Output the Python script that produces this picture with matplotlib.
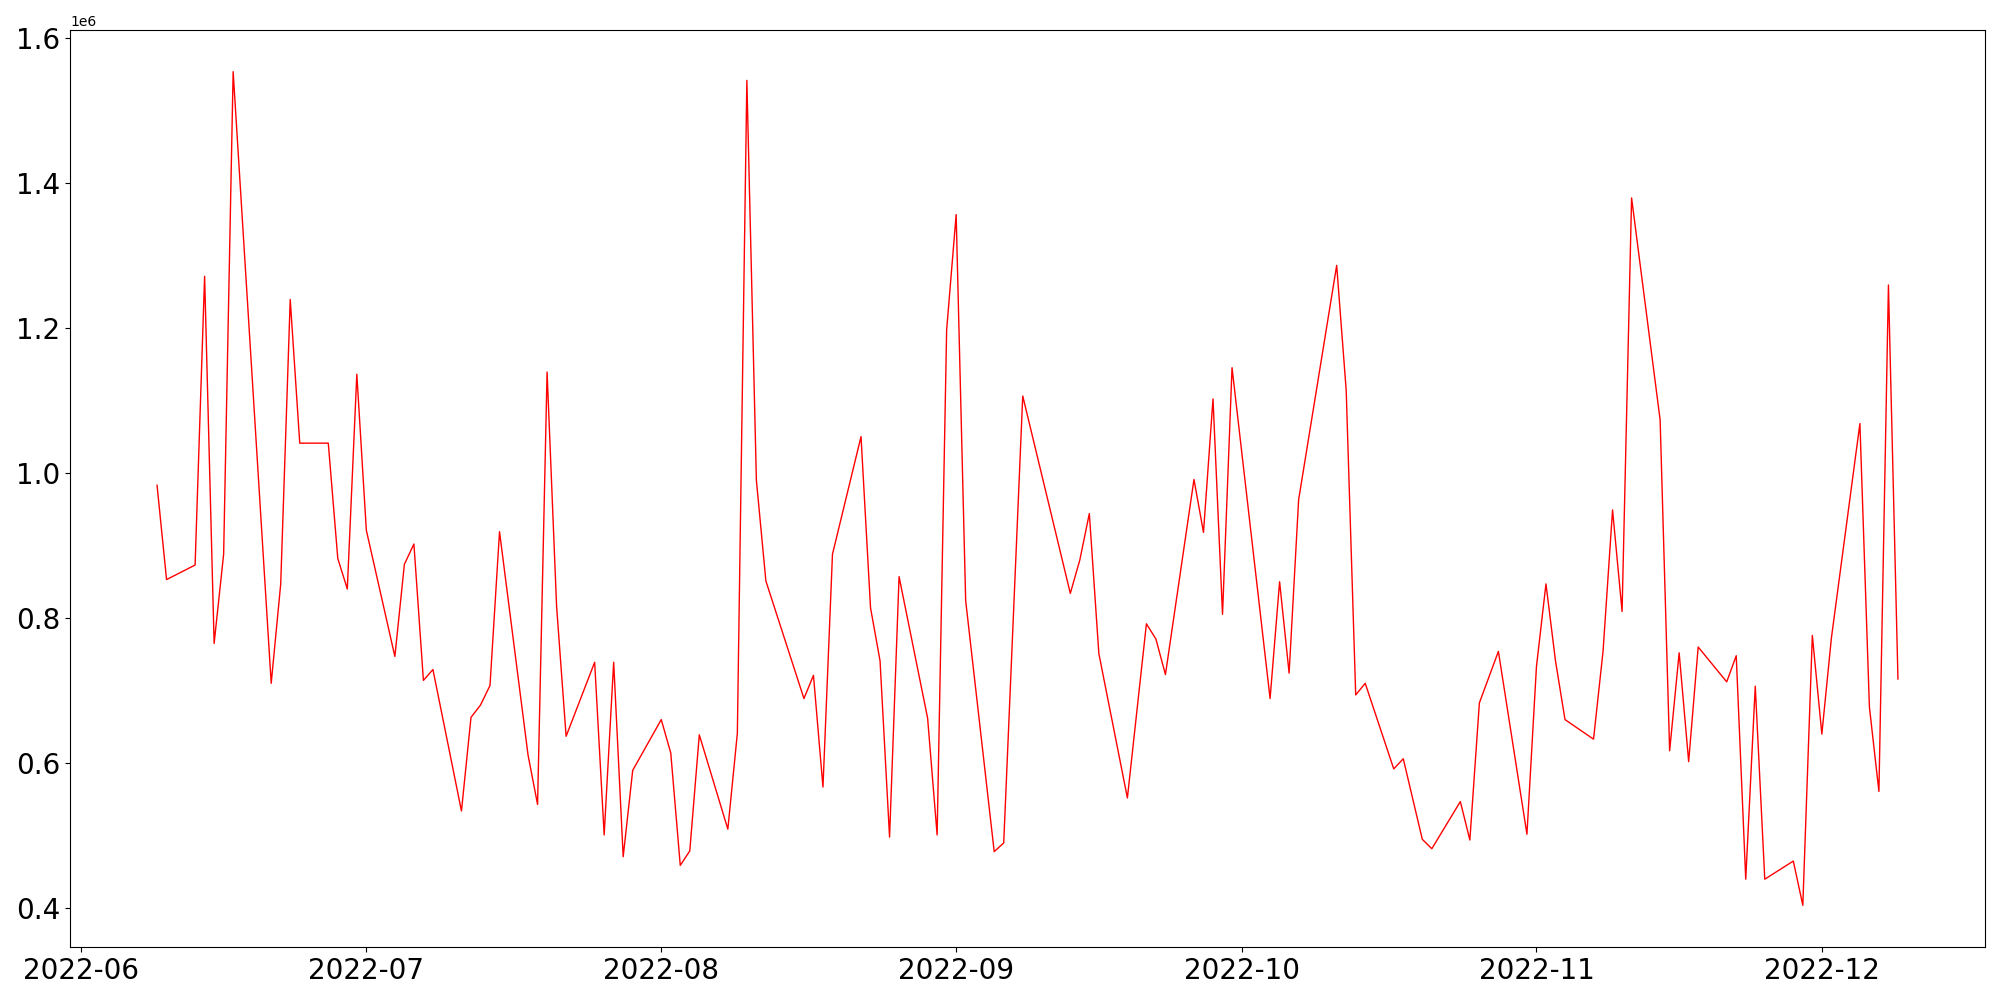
import pandas as pd
import matplotlib
matplotlib.use('Agg')
import matplotlib.pyplot as plt

# daily values (units of 1e6)
dates = [
    '2022-06-09', '2022-06-10', '2022-06-13', '2022-06-14', '2022-06-15', '2022-06-16', '2022-06-17',
    '2022-06-21', '2022-06-22', '2022-06-23', '2022-06-24', '2022-06-27', '2022-06-28', '2022-06-29',
    '2022-06-30', '2022-07-01', '2022-07-04', '2022-07-05', '2022-07-06', '2022-07-07', '2022-07-08',
    '2022-07-11', '2022-07-12', '2022-07-13', '2022-07-14', '2022-07-15', '2022-07-18', '2022-07-19',
    '2022-07-20', '2022-07-21', '2022-07-22', '2022-07-25', '2022-07-26', '2022-07-27', '2022-07-28',
    '2022-07-29', '2022-08-01', '2022-08-02', '2022-08-03', '2022-08-04', '2022-08-05', '2022-08-08',
    '2022-08-09', '2022-08-10', '2022-08-11', '2022-08-12', '2022-08-16', '2022-08-17', '2022-08-18',
    '2022-08-19', '2022-08-22', '2022-08-23', '2022-08-24', '2022-08-25', '2022-08-26', '2022-08-29',
    '2022-08-30', '2022-08-31', '2022-09-01', '2022-09-02', '2022-09-05', '2022-09-06', '2022-09-08',
    '2022-09-13', '2022-09-14', '2022-09-15', '2022-09-16', '2022-09-19', '2022-09-21', '2022-09-22',
    '2022-09-23', '2022-09-26', '2022-09-27', '2022-09-28', '2022-09-29', '2022-09-30', '2022-10-04',
    '2022-10-05', '2022-10-06', '2022-10-07', '2022-10-11', '2022-10-12', '2022-10-13', '2022-10-14',
    '2022-10-17', '2022-10-18', '2022-10-20', '2022-10-21', '2022-10-24', '2022-10-25', '2022-10-26',
    '2022-10-28', '2022-10-31', '2022-11-01', '2022-11-02', '2022-11-03', '2022-11-04', '2022-11-07',
    '2022-11-08', '2022-11-09', '2022-11-10', '2022-11-11', '2022-11-14', '2022-11-15', '2022-11-16',
    '2022-11-17', '2022-11-18', '2022-11-21', '2022-11-22', '2022-11-23', '2022-11-24', '2022-11-25',
    '2022-11-28', '2022-11-29', '2022-11-30', '2022-12-01', '2022-12-02', '2022-12-05', '2022-12-06',
    '2022-12-07', '2022-12-08', '2022-12-09',
]
values = [
    0.983, 0.853, 0.873, 1.271, 0.765, 0.888, 1.553,
    0.710, 0.847, 1.239, 1.041, 1.041, 0.882, 0.840,
    1.136, 0.921, 0.747, 0.874, 0.902, 0.714, 0.729,
    0.534, 0.663, 0.680, 0.707, 0.919, 0.611, 0.543,
    1.139, 0.816, 0.637, 0.739, 0.501, 0.739, 0.471,
    0.590, 0.660, 0.614, 0.459, 0.479, 0.639, 0.509,
    0.641, 1.541, 0.990, 0.851, 0.689, 0.721, 0.567,
    0.888, 1.050, 0.814, 0.741, 0.498, 0.857, 0.662,
    0.501, 1.197, 1.356, 0.824, 0.478, 0.490, 1.106,
    0.834, 0.880, 0.944, 0.751, 0.552, 0.792, 0.771,
    0.722, 0.991, 0.918, 1.102, 0.805, 1.145, 0.689,
    0.850, 0.724, 0.963, 1.286, 1.114, 0.694, 0.710,
    0.592, 0.606, 0.495, 0.482, 0.547, 0.494, 0.683,
    0.754, 0.502, 0.733, 0.847, 0.741, 0.660, 0.633,
    0.754, 0.949, 0.809, 1.379, 1.073, 0.617, 0.752,
    0.602, 0.760, 0.712, 0.748, 0.440, 0.706, 0.440,
    0.465, 0.404, 0.776, 0.640, 0.772, 1.068, 0.677,
    0.561, 1.259, 0.716,
]

s = pd.Series([v * 1e6 for v in values], index=pd.to_datetime(dates))

fig, ax = plt.subplots(figsize=(20, 10), dpi=100)
ax.plot(s.index, s.values, color='red', linewidth=1)
plt.xticks(fontsize=20)
plt.yticks(fontsize=20)
fig.subplots_adjust(left=0.035, right=0.9925, top=0.97, bottom=0.053)
fig.savefig('out.png')
